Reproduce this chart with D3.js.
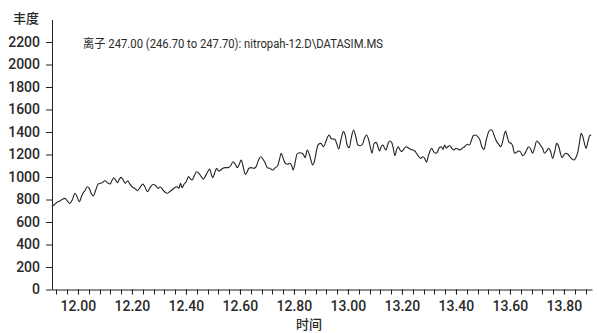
<!DOCTYPE html>
<html lang="zh">
<head>
  <meta charset="utf-8">
  <title>离子 247.00</title>
  <script src="https://d3js.org/d3.v7.min.js"></script>
  <style>
    body { margin: 0; background: #fff; }
    text { font-family: Roboto, 'Noto Sans CJK SC', sans-serif; fill: #2a2a2a; }
  </style>
</head>
<body>
<script>
// retention time (min)
var times = [
  11.904, 11.911, 11.921, 11.933, 11.943, 11.952, 11.960, 11.970, 11.979, 11.989,
  11.997, 12.005, 12.014, 12.020, 12.026, 12.034, 12.042, 12.049, 12.057, 12.066,
  12.075, 12.084, 12.091, 12.100, 12.109, 12.119, 12.127, 12.133, 12.141, 12.147,
  12.153, 12.160, 12.168, 12.175, 12.184, 12.193, 12.203, 12.211, 12.220, 12.230,
  12.240, 12.248, 12.257, 12.267, 12.279, 12.289, 12.297, 12.306, 12.315, 12.323,
  12.331, 12.340, 12.348, 12.358, 12.368, 12.374, 12.380, 12.386, 12.393, 12.401,
  12.410, 12.417, 12.423, 12.432, 12.440, 12.448, 12.457, 12.464, 12.473, 12.481,
  12.488, 12.494, 12.500, 12.506, 12.514, 12.521, 12.529, 12.537, 12.546, 12.556,
  12.566, 12.574, 12.583, 12.590, 12.599, 12.605, 12.612, 12.620, 12.627, 12.633,
  12.642, 12.652, 12.660, 12.669, 12.677, 12.685, 12.694, 12.701, 12.711, 12.721,
  12.731, 12.740, 12.746, 12.753, 12.760, 12.768, 12.777, 12.785, 12.793, 12.797,
  12.805, 12.811, 12.820, 12.830, 12.836, 12.842, 12.849, 12.857, 12.863, 12.869,
  12.877, 12.884, 12.891, 12.900, 12.909, 12.916, 12.925, 12.931, 12.937, 12.943,
  12.952, 12.958, 12.966, 12.974, 12.983, 12.990, 12.997, 13.005, 13.012, 13.021,
  13.030, 13.037, 13.046, 13.054, 13.062, 13.069, 13.077, 13.084, 13.089, 13.097,
  13.105, 13.111, 13.117, 13.123, 13.130, 13.136, 13.141, 13.148, 13.154, 13.162,
  13.168, 13.174, 13.180, 13.186, 13.193, 13.199, 13.207, 13.215, 13.223, 13.232,
  13.241, 13.248, 13.254, 13.263, 13.269, 13.277, 13.284, 13.291, 13.297, 13.304,
  13.310, 13.316, 13.323, 13.331, 13.338, 13.346, 13.352, 13.358, 13.364, 13.370,
  13.378, 13.385, 13.393, 13.400, 13.407, 13.415, 13.423, 13.432, 13.442, 13.450,
  13.458, 13.464, 13.473, 13.481, 13.489, 13.496, 13.504, 13.511, 13.519, 13.527,
  13.533, 13.541, 13.548, 13.558, 13.566, 13.573, 13.580, 13.584, 13.590, 13.597,
  13.605, 13.611, 13.617, 13.625, 13.632, 13.640, 13.647, 13.654, 13.662, 13.669,
  13.677, 13.684, 13.691, 13.699, 13.706, 13.714, 13.721, 13.728, 13.736, 13.743,
  13.751, 13.758, 13.766, 13.773, 13.781, 13.787, 13.793, 13.800, 13.807, 13.815,
  13.822, 13.830, 13.837, 13.844, 13.852, 13.858, 13.864, 13.870, 13.876, 13.882,
  13.889, 13.895, 13.901
];

// abundance
var abundance = [
  740, 751, 772, 787, 802, 810, 790, 766, 795, 855,
  825, 780, 831, 860, 878, 914, 899, 855, 831, 884,
  938, 944, 950, 967, 950, 938, 973, 994, 967, 950,
  980, 997, 973, 944, 967, 935, 908, 899, 878, 905,
  938, 914, 870, 905, 935, 920, 899, 911, 884, 864,
  855, 870, 884, 905, 914, 899, 944, 905, 935, 958,
  1003, 982, 973, 1018, 1047, 1033, 1003, 980, 1012, 1047,
  1071, 1024, 994, 1033, 1077, 1053, 1062, 1077, 1083, 1083,
  1100, 1136, 1113, 1083, 1122, 1151, 1092, 1024, 1047, 1077,
  1083, 1077, 1092, 1151, 1180, 1160, 1122, 1083, 1077, 1062,
  1083, 1100, 1151, 1211, 1166, 1122, 1113, 1122, 1092, 1062,
  1136, 1202, 1216, 1211, 1196, 1172, 1240, 1202, 1151, 1107,
  1151, 1240, 1291, 1299, 1269, 1299, 1358, 1373, 1344, 1338,
  1335, 1299, 1249, 1329, 1403, 1373, 1284, 1260, 1344, 1418,
  1349, 1284, 1278, 1291, 1349, 1373, 1329, 1255, 1211, 1299,
  1308, 1269, 1231, 1269, 1284, 1255, 1240, 1291, 1320, 1308,
  1255, 1189, 1240, 1269, 1240, 1225, 1249, 1269, 1260, 1246,
  1240, 1231, 1211, 1180, 1166, 1180, 1166, 1131, 1180, 1231,
  1255, 1231, 1211, 1220, 1260, 1269, 1246, 1284, 1255, 1269,
  1278, 1255, 1240, 1255, 1249, 1240, 1255, 1269, 1291, 1284,
  1329, 1367, 1373, 1358, 1329, 1269, 1246, 1314, 1388, 1418,
  1418, 1373, 1329, 1291, 1269, 1314, 1388, 1409, 1358, 1308,
  1299, 1269, 1211, 1220, 1231, 1220, 1189, 1202, 1240, 1269,
  1249, 1211, 1255, 1320, 1308, 1278, 1255, 1211, 1231, 1255,
  1225, 1166, 1225, 1299, 1269, 1211, 1172, 1196, 1211, 1202,
  1180, 1160, 1151, 1172, 1225, 1314, 1388, 1358, 1299, 1255,
  1314, 1367, 1373
];

var xTicks = [12.0, 12.2, 12.4, 12.6, 12.8, 13.0, 13.2, 13.4, 13.6, 13.8];
var yTicks = [0, 200, 400, 600, 800, 1000, 1200, 1400, 1600, 1800, 2000, 2200];
var title = "离子 247.00 (246.70 to 247.70): nitropah-12.D\\DATASIM.MS";

var w = 597, h = 333;
var m = { left: 52, right: 592, top: 19.5, bottom: 289.5 };

var svg = d3.select("body").append("svg")
  .attr("width", w)
  .attr("height", h);

var x = d3.scaleLinear().domain([11.904, 13.904]).range([m.left, m.right]);
var y = d3.scaleLinear().domain([0, 2400]).range([m.bottom, m.top]);

// minor ticks every 0.04
var minor = d3.range(11.92, 13.9, 0.04);
svg.append("g")
  .attr("transform", "translate(0," + m.bottom + ")")
  .selectAll("line")
  .data(minor)
  .join("line")
  .attr("x1", function(d) { return Math.round(x(d)) + 0.5; })
  .attr("x2", function(d) { return Math.round(x(d)) + 0.5; })
  .attr("y1", 0).attr("y2", 5)
  .attr("stroke", "#222");

var xAxis = svg.append("g")
  .attr("transform", "translate(0," + m.bottom + ")")
  .call(d3.axisBottom(x).tickValues(xTicks).tickFormat(d3.format(".2f"))
    .tickSize(5).tickPadding(7).tickSizeOuter(0));
xAxis.select(".domain").attr("stroke", "#222");
xAxis.selectAll("line").attr("stroke", "#222");
xAxis.selectAll("text").style("font-size", "14px").style("font-weight", 500);

var yAxis = svg.append("g")
  .attr("transform", "translate(" + m.left + ",0)")
  .call(d3.axisLeft(y).tickValues(yTicks).tickFormat(d3.format("d"))
    .tickSize(6).tickPadding(6).tickSizeOuter(0));
yAxis.select(".domain").attr("stroke", "#222");
yAxis.selectAll("line").attr("stroke", "#222");
yAxis.selectAll("text").style("font-size", "14px").style("font-weight", 500);

var points = times.map(function(t, i) { return [t, abundance[i]]; });
var line = d3.line()
  .x(function(d) { return x(d[0]); })
  .y(function(d) { return y(d[1]); })
  .curve(d3.curveMonotoneX);

svg.append("path")
  .datum(points)
  .attr("d", line)
  .attr("fill", "none")
  .attr("stroke", "#222")
  .attr("stroke-width", 1.1);

svg.append("text")
  .attr("x", 83).attr("y", 48)
  .attr("textLength", 300)
  .attr("lengthAdjust", "spacingAndGlyphs")
  .style("font-size", "12px")
  .text(title);

svg.append("text")
  .attr("x", 26).attr("y", 23)
  .attr("text-anchor", "middle")
  .style("font-size", "13px")
  .style("font-weight", 500)
  .text("丰度");

svg.append("text")
  .attr("x", 309).attr("y", 329)
  .attr("text-anchor", "middle")
  .style("font-size", "13px")
  .style("font-weight", 500)
  .text("时间");
</script>
</body>
</html>
